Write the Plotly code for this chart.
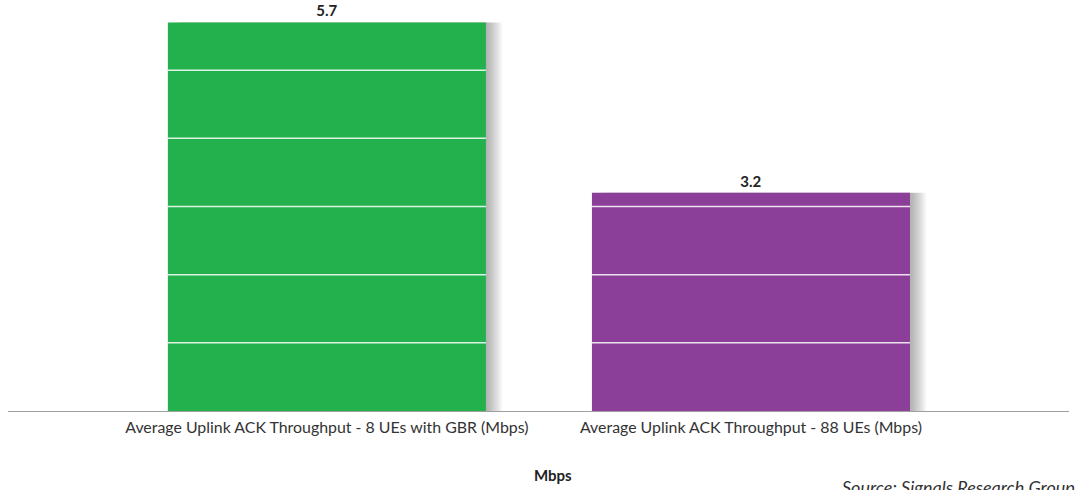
import plotly.graph_objects as go

categories = ["Average Uplink ACK Throughput - 8 UEs with GBR (Mbps)",
              "Average Uplink ACK Throughput - 88 UEs (Mbps)"]
values = [5.7, 3.2]
labels = ["5.7", "3.2"]
colors = ["#23B14D", "#8B3F98"]
grid_vals = [1, 2, 3, 4, 5]

FONT = "Lato"
fig = go.Figure()

# soft drop shadow layers
bar_w = 0.75
px_unit = 1 / 424.0
for i in range(1, 11):
    fig.add_trace(go.Bar(
        x=list(range(len(categories))), y=values, width=bar_w,
        offset=-bar_w / 2 + i * 1.6 * px_unit,
        marker=dict(color="rgba(70,70,80,0.05)", line=dict(width=0)),
        hoverinfo="skip", showlegend=False,
    ))

fig.add_trace(go.Bar(
    x=list(range(len(categories))), y=values, width=bar_w, offset=-bar_w / 2,
    marker=dict(color=colors, line=dict(width=0)),
    text=labels, textposition="outside",
    textfont=dict(family=FONT, size=15, color="#222222", weight="bold"),
    cliponaxis=False, showlegend=False,
))

# white gridlines visible over the bars only
for i, v in enumerate(values):
    for g in grid_vals:
        if g < v:
            fig.add_shape(type="line", xref="x", x0=i - bar_w / 2, x1=i + bar_w / 2,
                          yref="y", y0=g, y1=g,
                          line=dict(color="rgba(255,255,255,0.85)", width=1.5),
                          layer="above")

fig.update_layout(
    width=1080, height=490,
    margin=dict(l=8, r=11, t=2, b=79),
    paper_bgcolor="white", plot_bgcolor="white",
    barmode="overlay",
    font=dict(family=FONT, size=15, color="#333333"),
    xaxis=dict(range=[-0.752, 1.75], showline=True, linecolor="#a0a0a0", linewidth=1,
               showgrid=False, ticks="", tickmode="array",
               tickvals=list(range(len(categories))), ticktext=categories,
               ticklabelstandoff=2,
               tickfont=dict(family=FONT, size=15.9, color="#333333")),
    yaxis=dict(range=[0, 6], showgrid=False, showticklabels=False, zeroline=False,
               showline=False),
    annotations=[
        dict(text="<b>Mbps</b>", xref="paper", yref="paper", x=0.514, y=-0.156,
             yanchor="middle", showarrow=False,
             font=dict(family=FONT, size=15, color="#222222")),
        dict(text="<i>Source: Signals Research Group</i>", xref="paper", yref="paper",
             x=0.784, y=-0.155, xanchor="left", yanchor="top", showarrow=False,
             font=dict(family=FONT, size=18, color="#333333")),
    ],
)

fig.write_html("out.html", config={"displayModeBar": False},
               post_script="document.body.style.margin='0';")
